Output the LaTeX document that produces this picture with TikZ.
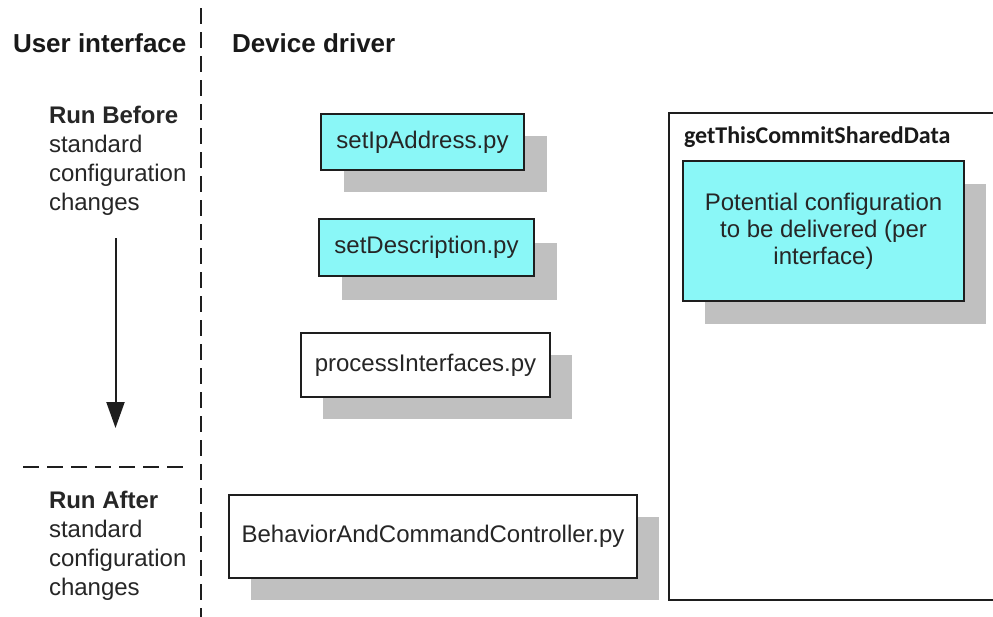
\documentclass[tikz,border=0pt]{standalone}
\usepackage{fontspec}
\setmainfont{Liberation Sans}
\newfontfamily\calib{Carlito}
\usetikzlibrary{shadows,arrows.meta}
\definecolor{cyanfill}{RGB}{138,247,247}
\definecolor{shadowgray}{RGB}{192,192,192}
\definecolor{txt}{RGB}{38,38,38}
\definecolor{edge}{RGB}{30,30,30}
\begin{document}
\begin{tikzpicture}[x=1pt,y=-1pt,
  every node/.style={inner sep=0pt, outer sep=0pt, font=\fontsize{24}{28}\selectfont, text=txt},
  filebox/.style={draw=edge, line width=1.5pt, anchor=north west},
  cyanbox/.style={filebox, fill=cyanfill},
  whitebox/.style={filebox, fill=white},
  shad/.style 2 args={drop shadow={shadow xshift=#1pt, shadow yshift=-#2pt, fill=shadowgray, opacity=1}},
  header/.style={anchor=base west, font=\bfseries\fontsize{26}{30}\selectfont, text=black!90},
  sidetext/.style={anchor=base west, align=left, font=\fontsize{24}{28.7}\selectfont},
  sep/.style={line width=2pt, dash pattern=on 16pt off 8pt, draw=edge},
]
\useasboundingbox (0,0) rectangle (993,616);
\clip (0,0) rectangle (993,616);
\fill[white] (0,0) rectangle (993,616);

% headers
\node[header] (ui) at (13,52) {User interface};
\node[header] (dd) at (232,52) {Device driver};

% separators
\coordinate (vtop) at (201,8);
\coordinate (vbot) at (201,624);
\draw[sep] (vtop) -- (vbot);
\coordinate (hl) at (23,467);
\coordinate (hr) at (187,467);
\draw[sep] (hl) -- (hr);

% left column (base anchor = baseline of last line)
\node[sidetext] (before) at (49,210) {\textbf{Run Before}\\standard\\configuration\\changes};
\node[sidetext] (after) at (49,595) {\textbf{Run After}\\standard\\configuration\\changes};

% arrow
\coordinate (atop) at (115.5,238);
\coordinate (abot) at (115.5,428);
\draw[line width=2pt, draw=edge, -{Triangle[width=18pt,length=26pt]}] (atop) -- (abot);

% script boxes
\node[cyanbox, shad={23}{22}, minimum width=203pt, minimum height=56pt] (ip) at (321,114) {setIpAddress.py};
\node[cyanbox, shad={23}{24}, minimum width=215pt, minimum height=57pt] (desc) at (319,219) {setDescription.py};
\node[whitebox, shad={22}{22}, minimum width=249pt, minimum height=64pt] (proc) at (301,333) {processInterfaces.py};
\node[whitebox, shad={22}{22}, minimum width=408pt, minimum height=83pt] (beh) at (229,495) {BehaviorAndCommandController.py};

% shared data
\node[filebox, fill=white, minimum width=360pt, minimum height=487pt] (shared) at (669,113) {};
\node[anchor=base west, font=\calib\bfseries\fontsize{24}{28}\selectfont, text=black!90] (sharedlabel) at (684,143) {getThisCommitSharedData};
\node[cyanbox, shad={22}{23}, minimum width=281pt, minimum height=140pt, align=center, font=\fontsize{24}{27}\selectfont] (pot) at (683,161) {Potential configuration\\to be delivered (per\\interface)};
\end{tikzpicture}
\end{document}
